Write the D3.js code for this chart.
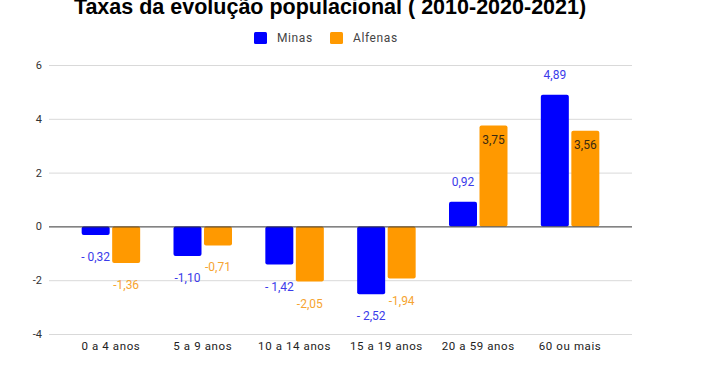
<!DOCTYPE html>
<html lang="pt">
<head>
<meta charset="UTF-8">
<title>Taxas da evolução populacional</title>
<script src="https://cdnjs.cloudflare.com/ajax/libs/d3/7.8.5/d3.min.js"></script>
<style>
  body { margin: 0; background: #fff; }
  text { font-family: Roboto, "Noto Sans", sans-serif; }
</style>
</head>
<body>
<script>
    var categories = ["0 a 4 anos", "5 a 9 anos", "10 a 14 anos", "15 a 19 anos", "20 a 59 anos", "60 ou mais"];
    var seriesNames = ["Minas", "Alfenas"];
    var minas = [-0.32, -1.10, -1.42, -2.52, 0.92, 4.89];
    var alfenas = [-1.36, -0.71, -2.05, -1.94, 3.75, 3.56];
    var minasLabels = ["- 0,32", "-1,10", "- 1,42", "- 2,52", "0,92", "4,89"];
    var alfenasLabels = ["-1,36", "-0,71", "-2,05", "-1,94", "3,75", "3,56"];
    var yTicks = [-4, -2, 0, 2, 4, 6];

    var width = 709, height = 375;
    var colors = ["#0000ff", "#ff9900"],
        labelColors = ["#3b3bea", "#f6a431"];

    var svg = d3.select("body").append("svg")
        .attr("width", width)
        .attr("height", height);

    // title, partly cut off at the top like the original
    svg.append("text")
        .attr("x", 330).attr("y", 14)
        .attr("text-anchor", "middle")
        .style("font-family", "'Liberation Sans', Arial, sans-serif")
        .style("font-weight", "bold")
        .style("font-size", "21.5px")
        .attr("fill", "#000")
        .text("Taxas da evolução populacional ( 2010-2020-2021)");

    // legend
    var legend = svg.append("g");
    var legendX = [254, 330];
    seriesNames.forEach(function(name, i) {
        legend.append("rect")
            .attr("x", legendX[i]).attr("y", 32)
            .attr("width", 13).attr("height", 12)
            .attr("rx", 1.5)
            .attr("fill", colors[i]);
        legend.append("text")
            .attr("x", legendX[i] + 23).attr("y", 42)
            .style("font-size", "12px")
            .style("letter-spacing", "0.6px")
            .attr("fill", "#444")
            .text(name);
    });

    var y = d3.scaleLinear().domain([-4, 6]).range([334, 65]);
    var gridLeft = 49, gridRight = 632;
    var x = d3.scaleBand().domain(categories).range([65, 616]);
    var barW = 28, gap = 2.5;

    // gridlines
    svg.append("g").selectAll("line").data(yTicks.filter(function(d) { return d !== 0; }))
        .enter().append("line")
        .attr("x1", gridLeft).attr("x2", gridRight)
        .attr("y1", function(d) { return y(d) + 0.5; })
        .attr("y2", function(d) { return y(d) + 0.5; })
        .attr("stroke", "#d9d9d9").attr("stroke-width", 1);

    // y axis labels
    svg.append("g").selectAll("text").data(yTicks)
        .enter().append("text")
        .attr("x", 42).attr("y", function(d) { return y(d) + 4; })
        .attr("text-anchor", "end")
        .style("font-size", "11px")
        .attr("fill", "#333")
        .text(function(d) { return d; });

    // bars
    var series = [minas, alfenas];
    var labels = [minasLabels, alfenasLabels];
    series.forEach(function(vals, s) {
        var g = svg.append("g");
        vals.forEach(function(v, i) {
            var cx = x(categories[i]) + x.bandwidth() / 2;
            var bx = s === 0 ? cx - gap / 2 - barW : cx + gap / 2;
            var top = Math.min(y(v), y(0)), h = Math.abs(y(v) - y(0));
            g.append("rect")
                .attr("x", bx).attr("y", top)
                .attr("width", barW).attr("height", h)
                .attr("rx", 2)
                .attr("fill", colors[s]);

            var lx = bx + barW / 2, ly, fill = labelColors[s];
            if (v < 0) {
                ly = y(v) + 26;
            } else if (s === 1 && v > 3) {
                ly = y(v) + 18;
                fill = "#3a2a10";
            } else {
                ly = y(v) - 16;
            }
            g.append("text")
                .attr("x", lx).attr("y", ly)
                .attr("text-anchor", "middle")
                .style("font-size", "12px")
                .attr("fill", fill)
                .text(labels[s][i]);
        });
    });

    // zero line
    svg.append("line")
        .attr("x1", gridLeft).attr("x2", gridRight)
        .attr("y1", y(0) + 0.5).attr("y2", y(0) + 0.5)
        .attr("stroke", "#333").attr("stroke-width", 1);

    // category labels
    svg.append("g").selectAll("text").data(categories)
        .enter().append("text")
        .attr("x", function(d) { return x(d) + x.bandwidth() / 2; })
        .attr("y", 350)
        .attr("text-anchor", "middle")
        .style("font-size", "11.5px")
        .style("letter-spacing", "0.6px")
        .attr("fill", "#222")
        .text(function(d) { return d; });
</script>
</body>
</html>
